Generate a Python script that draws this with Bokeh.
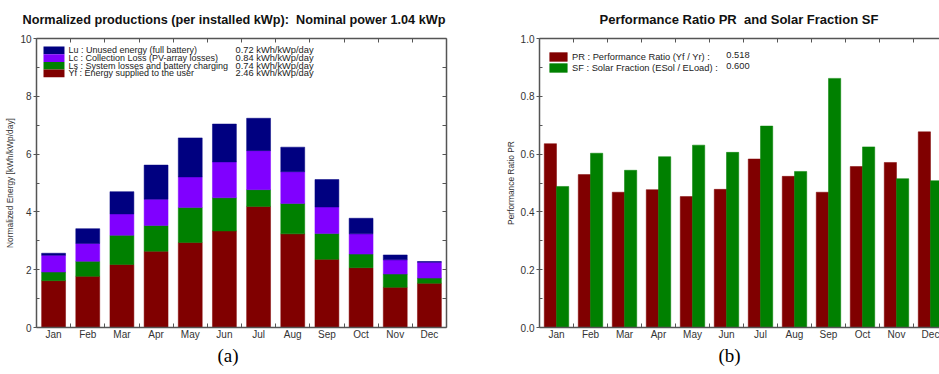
from bokeh.plotting import figure
from bokeh.layouts import row
from bokeh.models import (Range1d, FixedTicker, SingleIntervalTicker, LinearAxis, Legend,
                          LegendItem, Title, PrintfTickFormatter, ColumnDataSource, Label,
                          BoxAnnotation)
from bokeh.transform import dodge
from bokeh.embed import file_html
from bokeh.resources import INLINE

# ---------------- data ----------------
months = ["Jan", "Feb", "Mar", "Apr", "May", "Jun", "Jul", "Aug", "Sep", "Oct", "Nov", "Dec"]

# (a) normalized productions, kWh/kWp/day (stack components)
yf = [1.62, 1.77, 2.18, 2.64, 2.94, 3.34, 4.19, 3.24, 2.36, 2.07, 1.39, 1.53]
ls = [0.30, 0.52, 1.01, 0.89, 1.21, 1.15, 0.58, 1.05, 0.89, 0.47, 0.46, 0.18]
lc = [0.58, 0.62, 0.74, 0.91, 1.06, 1.24, 1.35, 1.10, 0.92, 0.70, 0.49, 0.55]
lu = [0.07, 0.51, 0.77, 1.18, 1.35, 1.31, 1.12, 0.85, 0.95, 0.54, 0.17, 0.02]
legend_a_labels = ["Lu : Unused energy (full battery)",
                   "Lc : Collection Loss (PV-array losses)",
                   "Ls : System losses and battery charging",
                   "Yf : Energy supplied to the user"]
legend_a_values = ["0.72 kWh/kWp/day", "0.84 kWh/kWp/day", "0.74 kWh/kWp/day", "2.46 kWh/kWp/day"]

# (b) performance ratio and solar fraction
pr = [0.636, 0.529, 0.468, 0.477, 0.453, 0.478, 0.583, 0.523, 0.468, 0.557, 0.571, 0.677]
sf = [0.488, 0.603, 0.544, 0.591, 0.631, 0.606, 0.697, 0.540, 0.862, 0.625, 0.515, 0.508]
legend_b_labels = ["PR : Performance Ratio (Yf / Yr) :", "SF : Solar Fraction (ESol / ELoad) :"]
legend_b_values = ["0.518", "0.600"]

NB = "\u00a0"
title_a = "Normalized productions (per installed kWp):" + NB + " Nominal power 1.04 kWp"
title_b = "Performance Ratio PR" + NB + " and Solar Fraction SF"
ylabel_a = "Normalized Energy [kWh/kWp/day]"
ylabel_b = "Performance Ratio PR"

# ---------------- styling ----------------
FONT = "Liberation Sans"
AX = "#555555"
TXT = "#333333"
C_LU, C_LC, C_LS, C_YF = "#000080", "#8000ff", "#008000", "#800000"

pos = list(range(1, len(months) + 1))
bounds = [p + 0.5 for p in pos[:-1]]
overrides = {p: m for p, m in zip(pos, months)}


def tick_only_axis(ticks):
    return LinearAxis(ticker=FixedTicker(ticks=ticks), major_tick_in=4, major_tick_out=0,
                      major_label_overrides={t: "" for t in ticks},
                      major_label_text_font_size="1px", major_label_standoff=0,
                      axis_line_color=AX, axis_line_width=1.5, major_tick_line_color=AX)


def base_axes(p, yticker, ylabel, yfmt=None, right_ticks=None):
    p.outline_line_color = None
    p.xgrid.visible = False
    p.ygrid.visible = False
    for ax in p.xaxis + p.yaxis:
        ax.major_label_text_font = FONT
        ax.major_label_text_font_size = "10px"
        ax.major_label_text_color = TXT
        ax.axis_line_color = AX
        ax.axis_line_width = 1.5
        ax.major_tick_line_color = AX
        ax.minor_tick_line_color = AX
    xa = p.xaxis[0]
    xa.ticker = FixedTicker(ticks=pos, minor_ticks=bounds)
    xa.major_label_overrides = overrides
    xa.major_tick_line_color = None
    xa.major_tick_in = 0
    xa.major_tick_out = 0
    xa.minor_tick_in = 4
    xa.minor_tick_out = 0
    xa.major_label_standoff = 1
    ya = p.yaxis[0]
    ya.ticker = yticker
    if yfmt is not None:
        ya.formatter = yfmt
    ya.major_tick_out = 3
    ya.major_tick_in = 0
    ya.minor_tick_in = 3
    ya.minor_tick_out = 0
    ya.major_label_standoff = 2
    ya.axis_label = ylabel
    ya.axis_label_text_font = FONT
    ya.axis_label_text_font_size = "8.4px"
    ya.axis_label_text_font_style = "normal"
    ya.axis_label_text_color = TXT
    ya.axis_label_standoff = 2
    p.add_layout(tick_only_axis(bounds), "above")
    if right_ticks is not None:
        p.add_layout(tick_only_axis(right_ticks), "right")


def style_title(p, text, offset, size):
    p.title.text = text
    p.title.align = "left"
    p.title.vertical_align = "top"
    p.title.offset = offset
    p.title.standoff = 20
    p.title.text_font = FONT
    p.title.text_font_size = size
    p.title.text_font_style = "bold"
    p.title.text_color = "#111111"


def sub_label(p, text, offset):
    p.add_layout(Title(text=text, align="left", offset=offset, text_font="Liberation Serif",
                       text_font_size="19px", text_font_style="normal", text_color="#000000",
                       standoff=0), "below")


# ---------------- (a) ----------------
p1 = figure(width=470, height=374, x_range=Range1d(0.5, 12.5), y_range=Range1d(0, 10),
            output_backend="svg", toolbar_location=None,
            min_border_left=36, min_border_right=24, min_border_top=38, min_border_bottom=47)
src_a = ColumnDataSource(dict(x=pos, Yf=yf, Ls=ls, Lc=lc, Lu=lu))
rs = p1.vbar_stack(["Yf", "Ls", "Lc", "Lu"], x="x", width=0.7, source=src_a,
                   fill_color=[C_YF, C_LS, C_LC, C_LU], line_color=[C_YF, C_LS, C_LC, C_LU],
                   line_width=0.5)
base_axes(p1, SingleIntervalTicker(interval=2, num_minor_ticks=2), ylabel_a,
          right_ticks=list(range(0, 11)))
style_title(p1, title_a, -14, "12.7px")
sub_label(p1, "(a)", 181)

# legend of (a): swatches + names + per-item values (rows of ~7.7 px)
LEG_TOP, LEG_STEP = 9.723, 0.2664
for i, (lab, val, col) in enumerate(zip(legend_a_labels, legend_a_values, [C_LU, C_LC, C_LS, C_YF])):
    top = LEG_TOP - i * LEG_STEP
    p1.add_layout(BoxAnnotation(left=0.705, right=1.319, top=top, bottom=top - LEG_STEP,
                                fill_color=col, fill_alpha=1.0, line_color=None))
    mid = top - LEG_STEP / 2
    p1.add_layout(Label(x=1.437, y=mid, text=lab, text_align="left", text_baseline="middle",
                        text_font=FONT, text_font_size="9px", text_color="#222222"))
    p1.add_layout(Label(x=8.61, y=mid, text=val, text_align="right", text_baseline="middle",
                        text_font=FONT, text_font_size="9.3px", text_color="#222222"))

# ---------------- (b) ----------------
p2 = figure(width=469, height=374, x_range=Range1d(0.5, 12.265), y_range=Range1d(0, 1),
            output_backend="svg", toolbar_location=None,
            min_border_left=69, min_border_right=0, min_border_top=38, min_border_bottom=47)
src_b = ColumnDataSource(dict(x=pos, PR=pr, SF=sf))
r_pr = p2.vbar(x=dodge("x", -0.18, range=p2.x_range), top="PR", width=0.36, source=src_b,
               fill_color=C_YF, line_color=C_YF, line_width=0.5)
r_sf = p2.vbar(x=dodge("x", 0.18, range=p2.x_range), top="SF", width=0.36, source=src_b,
               fill_color=C_LS, line_color=C_LS, line_width=0.5)
base_axes(p2, SingleIntervalTicker(interval=0.2, num_minor_ticks=2), ylabel_b,
          yfmt=PrintfTickFormatter(format="%.1f"))
style_title(p2, title_b, 60, "13px")
sub_label(p2, "(b)", 179)

leg_b = Legend(items=[LegendItem(label=lab, renderers=[r]) for lab, r in zip(legend_b_labels, [r_pr, r_sf])],
               location=(8, 254), margin=0, padding=0, spacing=0,
               glyph_width=22, glyph_height=11, label_height=11, label_standoff=3,
               label_text_font=FONT, label_text_font_size="9.3px", label_text_color="#222222",
               background_fill_alpha=0, border_line_alpha=0)
p2.add_layout(leg_b)
for i, v in enumerate(legend_b_values):
    p2.add_layout(Label(x=6.68, y=0.944 - i * 0.038, text=v, text_align="right", text_baseline="middle",
                        text_font=FONT, text_font_size="9.3px", text_color="#222222"))

layout = row(p1, p2)
open("out.html", "w").write(file_html(layout, INLINE))
